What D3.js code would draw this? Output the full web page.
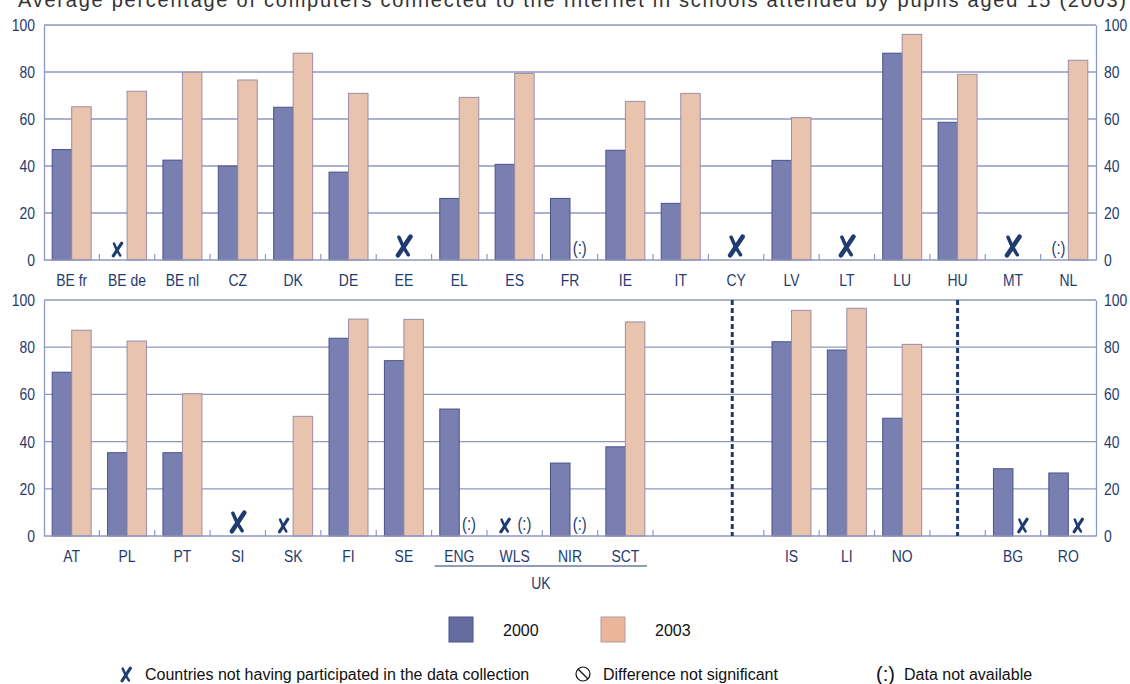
<!DOCTYPE html>
<html>
<head>
<meta charset="utf-8">
<script src="https://cdn.jsdelivr.net/npm/d3@7"></script>
<style>
  html, body { margin: 0; padding: 0; background: #fff; }
  svg { display: block; }
  .narrow { transform-box: fill-box; transform: scaleX(0.82); }
</style>
</head>
<body>
<div id="chart"></div>
<script>
// ---------------- DATA ----------------
const titleText = "Average percentage of computers connected to the Internet in schools attended by pupils aged 15 (2003)";
const seriesNames = ["2000", "2003"];
const yTicks = [0, 20, 40, 60, 80, 100];

const categoriesTop = ["BE fr","BE de","BE nl","CZ","DK","DE","EE","EL","ES","FR","IE","IT","CY","LV","LT","LU","HU","MT","NL"];
const values2000Top = [47, null, 42.5, 40, 65, 37.4, null, 26.2, 40.7, 26.2, 46.7, 24.1, null, 42.4, null, 88, 58.6, null, null];
const values2003Top = [65.2, 71.8, 79.9, 76.6, 88, 70.9, null, 69.2, 79.4, null, 67.5, 70.9, null, 60.6, null, 96, 79, null, 85];

const categoriesBottom = ["AT","PL","PT","SI","SK","FI","SE","ENG","WLS","NIR","SCT","_g1","_g2","IS","LI","NO","_g3","BG","RO"];
const values2000Bottom = [69.4, 35.3, 35.3, null, null, 83.8, 74.3, 53.8, null, 30.9, 37.8, null, null, 82.3, 78.8, 49.9, null, 28.5, 26.7];
const values2003Bottom = [87.2, 82.6, 60.3, null, 50.7, 91.9, 91.8, null, null, null, 90.7, null, null, 95.6, 96.5, 81.2, null, null, null];

// markers: type "x" = not participated, "na" = data not available
const markersTop = [
  {cat: "BE de", slot: "2000",   type: "x",  big: false},
  {cat: "EE",    slot: "center", type: "x",  big: true},
  {cat: "FR",    slot: "2003",   type: "na"},
  {cat: "CY",    slot: "center", type: "x",  big: true},
  {cat: "LT",    slot: "center", type: "x",  big: true},
  {cat: "MT",    slot: "center", type: "x",  big: true},
  {cat: "NL",    slot: "2000",   type: "na"}
];
const markersBottom = [
  {cat: "SI",  slot: "center", type: "x",  big: true},
  {cat: "SK",  slot: "2000",   type: "x",  big: false},
  {cat: "ENG", slot: "2003",   type: "na"},
  {cat: "WLS", slot: "2000",   type: "x",  big: false},
  {cat: "WLS", slot: "2003",   type: "na"},
  {cat: "NIR", slot: "2003",   type: "na"},
  {cat: "BG",  slot: "2003",   type: "x",  big: false},
  {cat: "RO",  slot: "2003",   type: "x",  big: false}
];
const ukGroup = ["ENG","WLS","NIR","SCT"];
const ukLabel = "UK";
const dividers = [{slot: "_g2", frac: 0.43}, {slot: "_g3", frac: 0.5}];

const legendItems = ["2000", "2003"];
const noteX = "Countries not having participated in the data collection";
const noteDiff = "Difference not significant";
const noteNA = "Data not available";

// ---------------- STYLE ----------------
const W = 1130, H = 684;
const C2000 = "#7980b1", S2000 = "#48528a";
const C2003 = "#e8c3ae", S2003 = "#9c8ca8";
const GRID = "#8f97be";
const NAVY = "#1f3b70";
const SANS = "'Liberation Sans', Arial, sans-serif";

const svg = d3.select("#chart").append("svg").attr("width", W).attr("height", H);

svg.append("text")
  .attr("x", 18).attr("y", 7)
  .attr("textLength", 1108).attr("lengthAdjust", "spacing")
  .style("font-family", SANS).style("font-size", "20px").attr("fill", "#333")
  .text(titleText);

// brush-like X mark drawn as two strokes
function drawX(parent, cx, baseY, big) {
  const h = big ? 22 : 15, w = big ? 15.5 : 10.5;
  const x0 = cx - w / 2, yTop = baseY - h;
  const gx = parent.append("g");
  gx.append("path")
    .attr("d", `M${x0 + w * 0.92},${yTop + h * 0.08} L${x0 + w * 0.12},${yTop + h * 0.92}`)
    .attr("stroke", NAVY).attr("stroke-width", h * 0.21).attr("stroke-linecap", "round").attr("fill", "none");
  gx.append("path")
    .attr("d", `M${x0 + w * 0.18},${yTop + h * 0.1} Q${x0 + w * 0.42},${yTop + h * 0.55} ${x0 + w * 0.78},${yTop + h * 0.9}`)
    .attr("stroke", NAVY).attr("stroke-width", h * 0.16).attr("stroke-linecap", "round").attr("fill", "none");
}

const xLeft = 44, xRight = 1096;

function drawPanel(cats, v2000, v2003, markers, y0, y100) {
  const g = svg.append("g");
  const x = d3.scaleBand().domain(cats).range([xLeft, xRight]).paddingInner(0).paddingOuter(0);
  const x1 = d3.scaleBand().domain(seriesNames).range([0, x.bandwidth()]).paddingInner(0).paddingOuter(0.42);
  const y = d3.scaleLinear().domain([0, 100]).range([y0, y100]);

  // gridlines
  g.selectAll("line.grid").data(yTicks.filter(t => t > 0)).join("line")
    .attr("x1", xLeft).attr("x2", xRight)
    .attr("y1", d => y(d)).attr("y2", d => y(d))
    .attr("stroke", GRID).attr("stroke-width", 1.3);

  // axes (left & right) with labels
  const yAxisL = d3.axisLeft(y).tickValues(yTicks).tickSize(0).tickPadding(9);
  const yAxisR = d3.axisRight(y).tickValues(yTicks).tickSize(0).tickPadding(8);
  const gl = g.append("g").attr("transform", `translate(${xLeft},0)`).call(yAxisL);
  const gr = g.append("g").attr("transform", `translate(${xRight},0)`).call(yAxisR);
  gl.selectAll("text").style("transform-origin", "right center");
  gr.selectAll("text").style("transform-origin", "left center");
  [gl, gr].forEach(a => {
    a.select(".domain").attr("stroke", GRID).attr("stroke-width", 1.3);
    a.selectAll("text").attr("class", "narrow").attr("fill", NAVY).style("font-family", SANS).style("font-size", "17px");
  });

  // bars
  const rows = cats.map((c, i) => ({cat: c, vals: [{s: "2000", v: v2000[i]}, {s: "2003", v: v2003[i]}]}));
  const grp = g.selectAll("g.grp").data(rows).join("g").attr("transform", d => `translate(${x(d.cat)},0)`);
  grp.selectAll("rect").data(d => d.vals.filter(v => v.v != null)).join("rect")
    .attr("x", d => x1(d.s)).attr("width", x1.bandwidth())
    .attr("y", d => y(d.v)).attr("height", d => y(0) - y(d.v))
    .attr("fill", d => d.s === "2000" ? C2000 : C2003)
    .attr("stroke", d => d.s === "2000" ? S2000 : S2003).attr("stroke-width", 1);

  // baseline
  g.append("line").attr("x1", xLeft).attr("x2", xRight).attr("y1", y(0)).attr("y2", y(0))
    .attr("stroke", GRID).attr("stroke-width", 1.5);

  // group boundary ticks
  const bounds = [];
  cats.forEach((c, i) => {
    if (i === 0) return;
    const prevGap = cats[i - 1].startsWith("_"), curGap = c.startsWith("_");
    if (prevGap && curGap) return;
    bounds.push(x(c));
  });
  g.selectAll("line.btick").data(bounds).join("line")
    .attr("x1", d => d).attr("x2", d => d).attr("y1", y(0)).attr("y2", y(0) - 6)
    .attr("stroke", GRID).attr("stroke-width", 1.2);

  // category labels
  g.selectAll("text.cat").data(cats.filter(c => !c.startsWith("_"))).join("text")
    .attr("class", "narrow").style("transform-origin", "center")
    .attr("x", d => x(d) + x.bandwidth() / 2).attr("y", y(0) + 26)
    .attr("text-anchor", "middle").attr("fill", NAVY)
    .style("font-family", SANS).style("font-size", "17px")
    .text(d => d);

  // markers
  markers.forEach(m => {
    const cx = m.slot === "center" ? x(m.cat) + x.bandwidth() / 2 : x(m.cat) + x1(m.slot) + x1.bandwidth() / 2;
    if (m.type === "x") {
      drawX(g, cx, y(0) - 3, m.big);
    } else {
      g.append("text").attr("x", cx).attr("y", y(0) - 6)
        .attr("class", "narrow").style("transform-origin", "center")
        .attr("text-anchor", "middle").attr("fill", NAVY)
        .style("font-family", SANS).style("font-size", "18px")
        .text("(:)");
    }
  });

  return {g, x, y};
}

drawPanel(categoriesTop, values2000Top, values2003Top, markersTop, 260, 25);
const bot = drawPanel(categoriesBottom, values2000Bottom, values2003Bottom, markersBottom, 536, 300);

// dotted dividers
dividers.forEach(dv => {
  const xx = bot.x(dv.slot) + bot.x.bandwidth() * dv.frac;
  svg.append("line").attr("x1", xx).attr("x2", xx).attr("y1", bot.y(100)).attr("y2", bot.y(0))
    .attr("stroke", NAVY).attr("stroke-width", 3).attr("stroke-dasharray", "5,3");
});

// UK bracket
const ukX0 = bot.x(ukGroup[0]) + 3, ukX1 = bot.x(ukGroup[ukGroup.length - 1]) + bot.x.bandwidth() - 6;
svg.append("line").attr("x1", ukX0).attr("x2", ukX1).attr("y1", 566).attr("y2", 566)
  .attr("stroke", NAVY).attr("stroke-width", 1);
svg.append("text").attr("x", (ukX0 + ukX1) / 2).attr("y", 589).attr("text-anchor", "middle")
  .attr("class", "narrow").style("transform-origin", "center")
  .attr("fill", NAVY).style("font-family", SANS).style("font-size", "17px").text(ukLabel);

// legend
const legX = [449, 601];
legendItems.forEach((s, i) => {
  svg.append("rect").attr("x", legX[i]).attr("y", 617).attr("width", 24).attr("height", 25)
    .attr("fill", s === "2000" ? "#656ca0" : "#eab59b")
    .attr("stroke", s === "2000" ? "#4a5288" : "#b49a9a").attr("stroke-width", 1);
  svg.append("text").attr("x", legX[i] + 54).attr("y", 636)
    .style("font-family", SANS).style("font-size", "16px").attr("fill", "#111").text(s);
});

// notes row
drawX(svg, 126, 682, false);
svg.append("text").attr("x", 145).attr("y", 680).style("font-family", SANS).style("font-size", "16px").attr("fill", "#111").text(noteX);
svg.append("circle").attr("cx", 583).attr("cy", 674).attr("r", 7).attr("fill", "none").attr("stroke", "#111").attr("stroke-width", 1.2);
svg.append("line").attr("x1", 578).attr("y1", 669).attr("x2", 588).attr("y2", 679).attr("stroke", "#111").attr("stroke-width", 1.2);
svg.append("text").attr("x", 603).attr("y", 680).style("font-family", SANS).style("font-size", "16px").attr("fill", "#111").text(noteDiff);
svg.append("text").attr("x", 876).attr("y", 681).style("font-family", SANS).style("font-size", "20px").attr("fill", "#111").text("(:)");
svg.append("text").attr("x", 904).attr("y", 680).style("font-family", SANS).style("font-size", "16px").attr("fill", "#111").text(noteNA);
</script>
</body>
</html>
